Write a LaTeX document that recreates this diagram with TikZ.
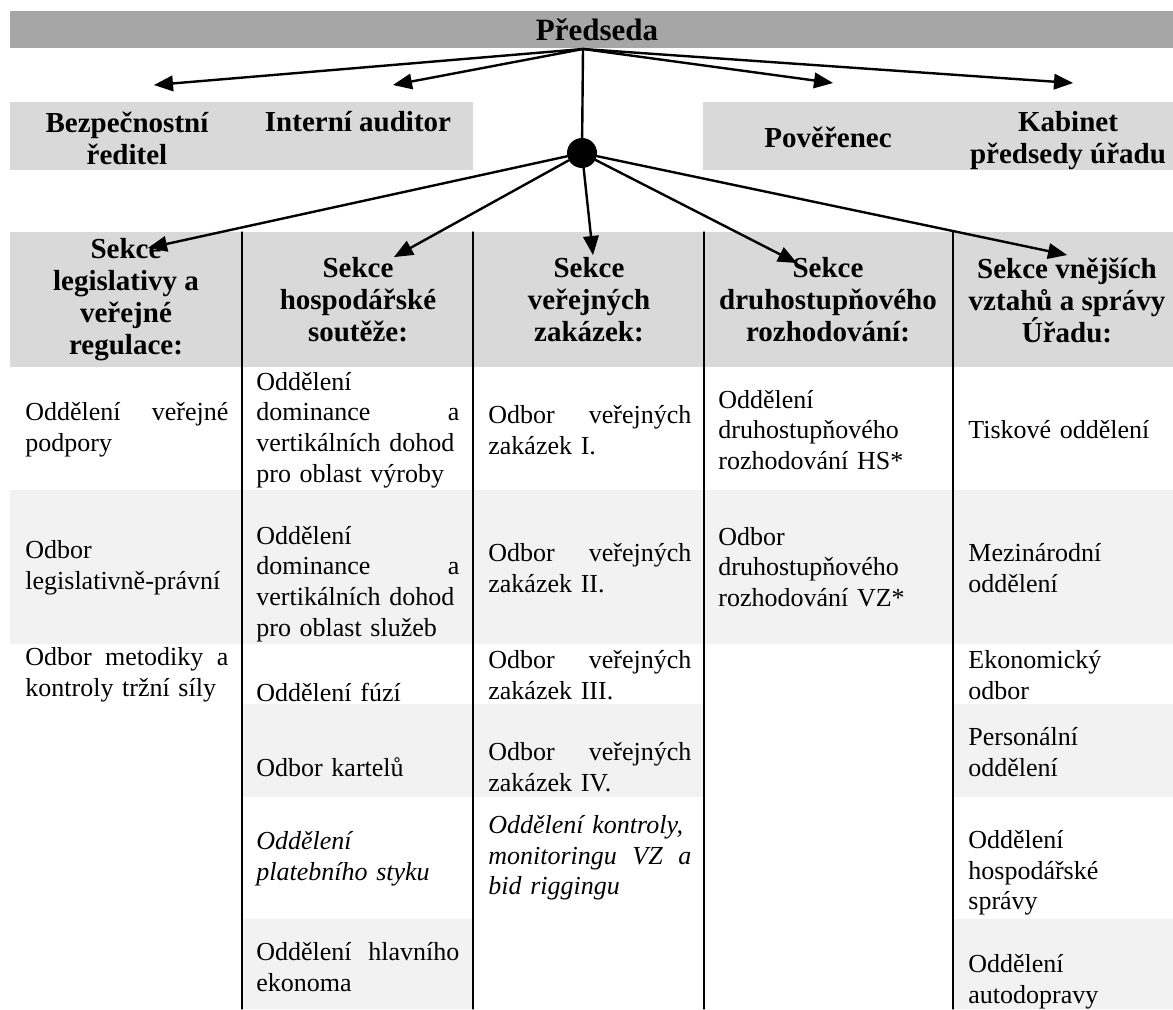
\documentclass[tikz,border=0pt]{standalone}
\usepackage{fontspec}
\setmainfont{Liberation Serif}
\usetikzlibrary{arrows}
\definecolor{barGray}{HTML}{A6A6A6}
\definecolor{boxGray}{HTML}{D9D9D9}
\definecolor{rowGray}{HTML}{F2F2F2}
\tikzset{
  hdtext/.style={font=\fontsize{14.5}{16}\selectfont\bfseries,align=center,inner sep=0pt},
  celltext/.style={font=\fontsize{13}{15.3}\selectfont,align=left,text width=#1,inner sep=0pt,anchor=west},
  celltext/.default=101.5pt,
  link/.style={line width=1.2pt}
}

\begin{document}
\begin{tikzpicture}[line cap=round,line join=round,>=triangle 45,x=0.5pt,y=-0.5pt]
\useasboundingbox (0,0) rectangle (1173,1009);
% shaded bands
\fill[barGray] (10,11) rectangle (1173,48);
\fill[boxGray] (10,102) rectangle (473,170);
\fill[boxGray] (703,102) rectangle (1173,170);
\fill[boxGray] (10,232) rectangle (1173,367);
\fill[rowGray] (10,490) rectangle (1173,644);
\fill[rowGray] (242,704) rectangle (704,797);
\fill[rowGray] (953,704) rectangle (1173,797);
\fill[rowGray] (242,919) rectangle (473,1009);
\fill[rowGray] (953,919) rectangle (1173,1009);
\foreach \x in {242,473,704,953}
  \draw[line width=0.6pt] (\x,232) -- (\x,1009);
% top level
\node[hdtext,font=\fontsize{15.5}{17}\selectfont\bfseries] (predseda) at (597,30) {Předseda};
\node[hdtext] (bezp) at (127,138) {Bezpečnostní\\ředitel};
\node[hdtext] (auditor) at (358,122) {Interní auditor};
\node[hdtext] (poverenec) at (828,137) {Pověřenec};
\node[hdtext] (kabinet) at (1068,141) {Kabinet\\předsedy úřadu};
% sections
\node[hdtext] (sLeg) at (126,300) {Sekce\\legislativy a\\veřejné\\regulace:};
\node[hdtext] (sHos) at (358,300) {Sekce\\hospodářské\\soutěže:};
\node[hdtext] (sVZ) at (589,300) {Sekce\\veřejných\\zakázek:};
\node[hdtext] (sDru) at (828,300) {Sekce\\druhostupňového\\rozhodování:};
\node[hdtext] (sVne) at (1067,300) {Sekce vnějších\\vztahů a správy\\Úřadu:};
% column 1
\node[celltext] (leg1) at (25,430) {Oddělení\hfill veřejné\\podpory};
\node[celltext] (leg2) at (25,568) {Odbor\\legislativně-právní};
\node[celltext] (leg3) at (25,675) {Odbor\hfill metodiky\hfill a\\kontroly tržní síly};
% column 2
\node[celltext] (hos1) at (256,430) {Oddělení\\dominance\hfill a\\vertikálních dohod\\pro oblast výroby};
\node[celltext] (hos2) at (256,584) {Oddělení\\dominance\hfill a\\vertikálních dohod\\pro oblast služeb};
\node[celltext] (hos3) at (256,692) {Oddělení fúzí};
\node[celltext] (hos4) at (256,767) {Odbor kartelů};
\node[celltext,font=\fontsize{13}{15.3}\selectfont\itshape] (hos5) at (256,859) {Oddělení\\platebního styku};
\node[celltext] (hos6) at (256,967) {Oddělení\hfill hlavního\\ekonoma};
% column 3
\node[celltext] (vz1) at (488,430) {Odbor\hfill veřejných\\zakázek I.};
\node[celltext] (vz2) at (488,568) {Odbor\hfill veřejných\\zakázek II.};
\node[celltext] (vz3) at (488,675) {Odbor\hfill veřejných\\zakázek III.};
\node[celltext] (vz4) at (488,767) {Odbor\hfill veřejných\\zakázek IV.};
\node[celltext,font=\fontsize{13}{15.3}\selectfont\itshape] (vz5) at (488,858) {Oddělení kontroly,\\monitoringu\hfill VZ\hfill a\\bid riggingu};
% column 4
\node[celltext=110pt] (dru1) at (718,430) {Oddělení\\druhostupňového\\rozhodování HS*};
\node[celltext=110pt] (dru2) at (718,567) {Odbor\\druhostupňového\\rozhodování VZ*};
% column 5
\node[celltext=98pt] (vne1) at (968,430) {Tiskové oddělení};
\node[celltext=98pt] (vne2) at (968,568) {Mezinárodní\\oddělení};
\node[celltext=98pt] (vne3) at (968,675) {Ekonomický\\odbor};
\node[celltext=98pt] (vne4) at (968,752) {Personální\\oddělení};
\node[celltext=98pt] (vne5) at (968,873) {Oddělení\\hospodářské\\správy};
\node[celltext=98pt] (vne6) at (968,982) {Oddělení\\autodopravy};
% connectors
\coordinate (src) at (583,49);
\node[circle,fill=black,inner sep=0pt,minimum size=15pt] (hub) at (582,153) {};
\coordinate (toBezp) at (154,85);
\coordinate (toAud) at (393,85);
\coordinate (toPov) at (833,83);
\coordinate (toKab) at (1073,83);
\coordinate (toLeg) at (148,248);
\coordinate (toHos) at (394,257);
\coordinate (toVZ) at (593,255);
\coordinate (toDru) at (797,263);
\coordinate (toVne) at (1067,255);
\draw[link] (src) -- (hub);
\foreach \t in {toBezp,toAud,toPov,toKab}
  \draw[link,->] (src) -- (\t);
\foreach \t in {toLeg,toHos,toVZ,toDru,toVne}
  \draw[link,->] (hub) -- (\t);
\end{tikzpicture}
\end{document}
